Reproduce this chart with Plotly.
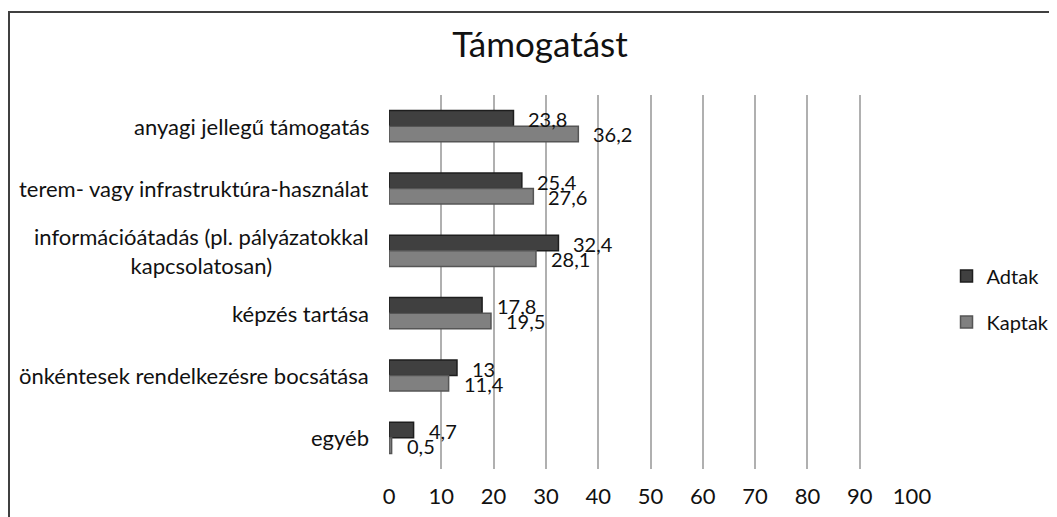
import plotly.graph_objects as go

categories = [
    "anyagi jellegű támogatás",
    "terem- vagy infrastruktúra-használat",
    "információátadás (pl. pályázatokkal<br>kapcsolatosan)",
    "képzés tartása",
    "önkéntesek rendelkezésre bocsátása",
    "egyéb",
]
adtak = [23.8, 25.4, 32.4, 17.8, 13, 4.7]
kaptak = [36.2, 27.6, 28.1, 19.5, 11.4, 0.5]
x_ticks = [0, 10, 20, 30, 40, 50, 60, 70, 80, 90, 100]

FONT = "Lato, 'Open Sans', sans-serif"

fig = go.Figure()
fig.add_trace(go.Bar(
    y=categories, x=adtak, name="Adtak", orientation="h", legendgroup="a",
    marker=dict(color="#404040", line=dict(color="#1e1e1e", width=1.5)),
    hoverinfo="x+name",
))
fig.add_trace(go.Bar(
    y=categories, x=kaptak, name="Kaptak", orientation="h", legendgroup="k",
    marker=dict(color="#808080", line=dict(color="#555555", width=1.5)),
    hoverinfo="x+name",
))

def fmt(v):
    return ("%g" % v).replace(".", ",")

annotations = []
for cat, a, k in zip(categories, adtak, kaptak):
    annotations.append(dict(x=a, y=cat, xref="x", yref="y", text=fmt(a),
                            showarrow=False, xanchor="left", yanchor="middle",
                            xshift=13, yshift=7, font=dict(size=20, color="#111", family=FONT)))
    annotations.append(dict(x=k, y=cat, xref="x", yref="y", text=fmt(k),
                            showarrow=False, xanchor="left", yanchor="middle",
                            xshift=13, yshift=-8, font=dict(size=20, color="#111", family=FONT)))
    annotations.append(dict(x=-0.0343, y=cat, xref="paper", yref="y", text=cat,
                            showarrow=False, xanchor="right", yanchor="middle", align="center",
                            font=dict(size=22, color="#111", family=FONT)))

# page body has an 8px margin, so the figure is drawn 8px smaller and shifted
fig.update_layout(
    width=1049, height=509,
    margin=dict(l=381, r=145, t=87, b=48, autoexpand=False),
    paper_bgcolor="white", plot_bgcolor="white",
    barmode="group", bargap=0.5, bargroupgap=0,
    title=dict(text="Támogatást", x=(540 - 389) / 523, xref="paper", xanchor="center",
               y=1 - 37 / 509, yanchor="middle",
               font=dict(size=35, color="#111", family=FONT)),
    font=dict(family=FONT, color="#111"),
    xaxis=dict(range=[0, 100], tickvals=x_ticks, showgrid=True, gridcolor="#b0b0b0",
               gridwidth=1.5, zeroline=False, showline=False, ticks="",
               tickfont=dict(size=22, color="#111", family=FONT), ticklabelstandoff=12,
               fixedrange=True),
    yaxis=dict(autorange="reversed", showticklabels=False, showgrid=False, zeroline=False,
               showline=False, ticks="", fixedrange=True),
    legend=dict(x=1.066, y=0.4545, xanchor="left", yanchor="middle", traceorder="grouped",
                font=dict(size=20, color="#111", family=FONT), itemwidth=30,
                tracegroupgap=17, bgcolor="rgba(0,0,0,0)"),
    annotations=annotations,
    shapes=[dict(type="rect", xref="paper", yref="paper",
                 x0=(9 - 389) / 523, x1=(1075 - 389) / 523,
                 y0=(469 - 530) / 374, y1=(469 - 12) / 374,
                 line=dict(color="#404040", width=2), fillcolor="rgba(0,0,0,0)", layer="below")],
)

fig.write_html("out.html")
